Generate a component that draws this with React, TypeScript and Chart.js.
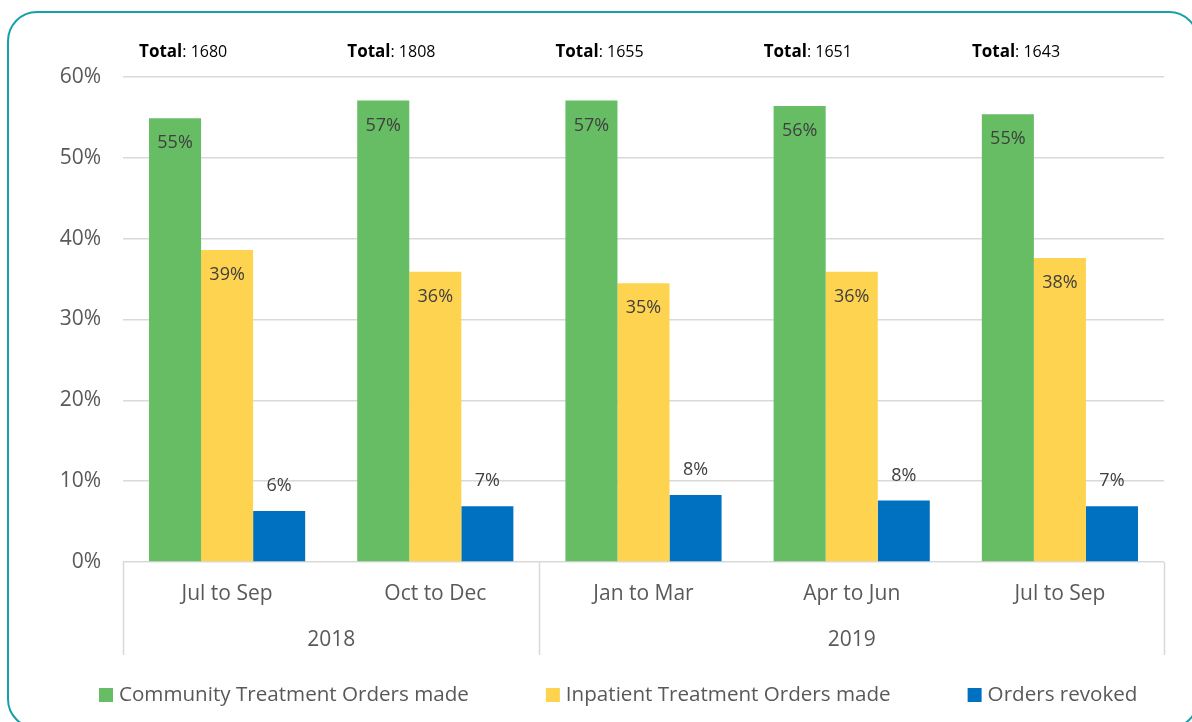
import React, { useEffect, useRef } from "react";
import { Chart, registerables } from "chart.js";

Chart.register(...registerables);

const categories = ["Jul to Sep", "Oct to Dec", "Jan to Mar", "Apr to Jun", "Jul to Sep"];
const years = ["2018", "2019"];
const yearSpans = [2, 3];
const totals = [1680, 1808, 1655, 1651, 1643];
const communityMade = [54.9, 57.1, 57.1, 56.4, 55.4];
const inpatientMade = [38.6, 35.9, 34.5, 35.9, 37.6];
const ordersRevoked = [6.3, 6.9, 8.3, 7.6, 6.9];
const seriesNames = ["Community Treatment Orders made", "Inpatient Treatment Orders made", "Orders revoked"];
const seriesColors = ["#66BD63", "#FED34F", "#0070C0"];
const yTicks = [0, 10, 20, 30, 40, 50, 60];

const FONT = "'Open Sans', sans-serif";
const GRID = "#D9D9D9";

const extrasPlugin = {
  id: "extras",
  afterDatasetsDraw(chart: any) {
    const ctx = chart.ctx;
    ctx.save();
    ctx.font = `18px ${FONT}`;
    ctx.fillStyle = "#404040";
    ctx.textAlign = "center";
    ctx.textBaseline = "middle";
    chart.data.datasets.forEach((ds: any, di: number) => {
      const meta = chart.getDatasetMeta(di);
      meta.data.forEach((bar: any, i: number) => {
        const label = Math.round(ds.data[i]) + "%";
        const y = di === 2 ? bar.y - 25 : bar.y + 25;
        ctx.fillText(label, bar.x, y);
      });
    });
    ctx.restore();
  },
  afterDraw(chart: any) {
    const ctx = chart.ctx;
    const ca = chart.chartArea;
    const xs = chart.scales.x;
    ctx.save();
    ctx.strokeStyle = GRID;
    ctx.lineWidth = 1.5;
    const axisBottom = ca.bottom + 93;
    let idx = 0;
    const bounds: number[] = [ca.left];
    yearSpans.forEach((s) => {
      idx += s;
      const xEnd = idx >= categories.length ? ca.right : (xs.getPixelForValue(idx - 1) + xs.getPixelForValue(idx)) / 2;
      bounds.push(xEnd);
    });
    bounds.forEach((b) => {
      ctx.beginPath();
      ctx.moveTo(Math.round(b) + 0.5, ca.bottom);
      ctx.lineTo(Math.round(b) + 0.5, axisBottom);
      ctx.stroke();
    });
    ctx.font = `21px ${FONT}`;
    ctx.fillStyle = "#595959";
    ctx.textAlign = "center";
    ctx.textBaseline = "middle";
    years.forEach((y, i) => {
      ctx.fillText(y, (bounds[i] + bounds[i + 1]) / 2, ca.bottom + 78);
    });
    ctx.textAlign = "left";
    ctx.textBaseline = "alphabetic";
    categories.forEach((c, i) => {
      const cx = xs.getPixelForValue(i);
      const x0 = cx - 88;
      ctx.font = `bold 17px ${FONT}`;
      ctx.fillStyle = "#000000";
      ctx.fillText("Total", x0, 57);
      const w = ctx.measureText("Total").width;
      ctx.font = `16px ${FONT}`;
      ctx.fillText(": " + totals[i], x0 + w, 57);
    });
    ctx.font = `20.6px ${FONT}`;
    ctx.textBaseline = "middle";
    const gap = 77;
    let x = 99;
    const ly = 695;
    chart.data.datasets.forEach((ds: any) => {
      ctx.fillStyle = ds.backgroundColor;
      ctx.fillRect(x, ly - 7, 14, 14);
      ctx.fillStyle = "#595959";
      ctx.fillText(ds.label, x + 20, ly);
      x += 20 + ctx.measureText(ds.label).width + gap;
    });
    ctx.restore();
  },
};

export default function App() {
  const canvasRef = useRef<HTMLCanvasElement>(null);

  useEffect(() => {
    const values = [communityMade, inpatientMade, ordersRevoked];
    const chart = new Chart(canvasRef.current!, {
      type: "bar",
      data: {
        labels: categories,
        datasets: values.map((v, i) => ({
          label: seriesNames[i],
          data: v,
          backgroundColor: seriesColors[i],
          borderWidth: 0,
          categoryPercentage: 0.75,
          barPercentage: 1.0,
        })),
      },
      options: {
        animation: false,
        responsive: true,
        maintainAspectRatio: false,
        layout: { padding: { top: 77, right: 28, bottom: 67, left: 0 } },
        plugins: {
          legend: { display: false },
          tooltip: { enabled: false },
        },
        scales: {
          x: {
            grid: { display: false },
            border: { display: false },
            ticks: {
              font: { family: FONT, size: 21 },
              color: "#595959",
              padding: 11,
              maxRotation: 0,
            },
            afterFit: (s: any) => {
              s.height = 93;
            },
          },
          y: {
            min: 0,
            max: 60,
            afterBuildTicks: (s: any) => {
              s.ticks = yTicks.map((v) => ({ value: v }));
            },
            grid: { color: GRID, lineWidth: 1.5, drawTicks: false },
            border: { display: false },
            ticks: {
              font: { family: FONT, size: 21 },
              color: "#595959",
              padding: 22,
              callback: (v: any) => v + "%",
            },
            afterFit: (s: any) => {
              s.width = 123;
            },
          },
        },
      },
      plugins: [extrasPlugin],
    });
    return () => chart.destroy();
  }, []);

  return (
    <div style={{ position: "absolute", left: 0, top: 0, width: 1192, height: 722, overflow: "hidden", background: "#fff" }}>
      <div
        style={{
          position: "absolute",
          left: 7,
          top: 11,
          width: 1192,
          height: 718,
          border: "2px solid #17A0A8",
          borderRadius: 30,
          boxSizing: "border-box",
        }}
      />
      <div style={{ position: "absolute", left: 0, top: 0, width: 1192, height: 722 }}>
        <canvas ref={canvasRef} />
      </div>
    </div>
  );
}
